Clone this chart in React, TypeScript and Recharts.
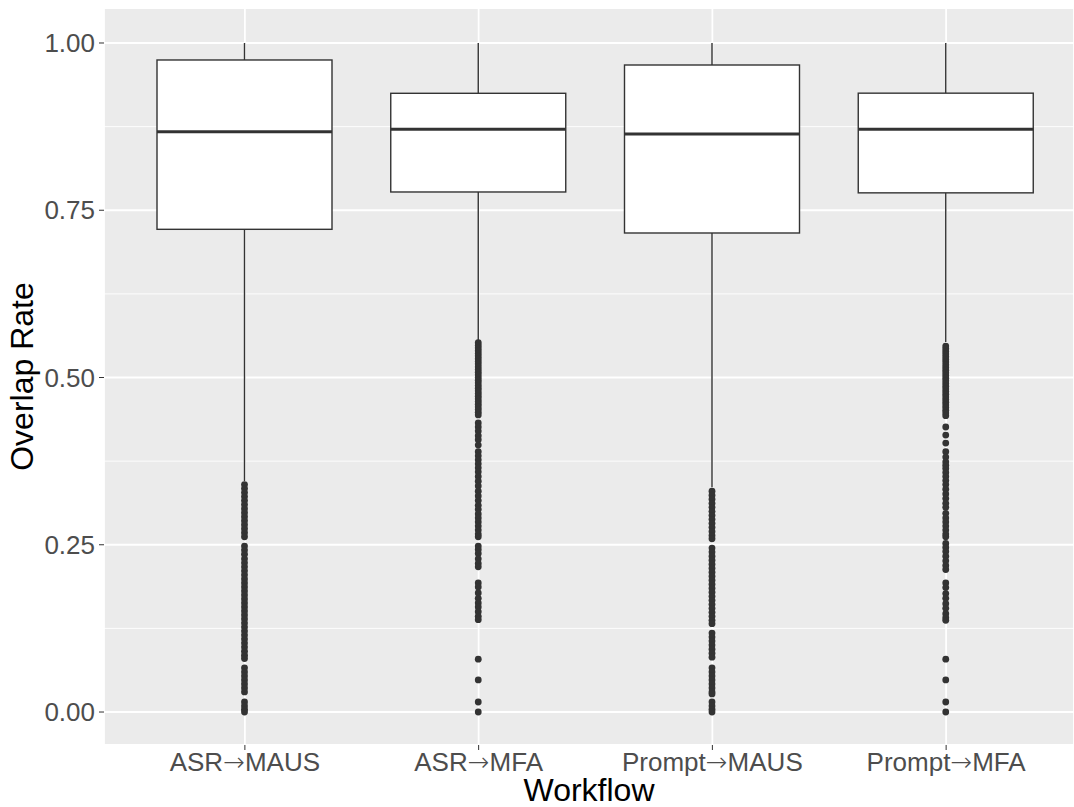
import { ComposedChart, Bar, XAxis, YAxis, CartesianGrid } from 'recharts';

const workflows = ['ASR→MAUS', 'ASR→MFA', 'Prompt→MAUS', 'Prompt→MFA'];
const whiskerLow = [0.345, 0.556, 0.336, 0.553];
const q1 = [0.7215, 0.7773, 0.716, 0.776];
const median = [0.8674, 0.871, 0.864, 0.871];
const q3 = [0.9746, 0.9248, 0.9671, 0.925];
const whiskerHigh = [1, 1, 1, 1];

const asrMausOutliers = [
  0.34, 0.334, 0.328, 0.322, 0.316, 0.31, 0.304, 0.298, 0.292, 0.286, 0.28, 0.274, 0.268, 0.262,
  0.248, 0.242, 0.236,
  0.229, 0.223, 0.217, 0.211, 0.205, 0.199, 0.193, 0.187, 0.181, 0.175, 0.169, 0.163, 0.157,
  0.151, 0.145, 0.139, 0.133, 0.127, 0.121, 0.115, 0.109, 0.103, 0.097, 0.091, 0.085, 0.08,
  0.066, 0.06, 0.054, 0.048, 0.042, 0.036, 0.03,
  0.015, 0.009, 0.004, 0,
];
const asrMfaOutliers = [
  0.552, 0.548, 0.544, 0.54, 0.536, 0.532, 0.528, 0.524, 0.52, 0.516, 0.512, 0.508, 0.504, 0.5,
  0.496, 0.492, 0.488, 0.484, 0.48, 0.476, 0.472, 0.468, 0.464, 0.46, 0.456, 0.452, 0.448, 0.444,
  0.432, 0.426, 0.42, 0.413, 0.407, 0.399, 0.389, 0.383, 0.377, 0.371, 0.365, 0.359, 0.352,
  0.345, 0.338, 0.33, 0.323, 0.316, 0.309, 0.303, 0.296, 0.29, 0.284, 0.278, 0.272, 0.266, 0.262,
  0.248, 0.243, 0.237, 0.229, 0.222, 0.217,
  0.193, 0.187, 0.178, 0.17, 0.163, 0.157, 0.15, 0.143, 0.138,
  0.079, 0.048, 0.015, 0,
];
const promptMausOutliers = [
  0.33, 0.324, 0.318, 0.312, 0.306, 0.3, 0.294, 0.288, 0.282, 0.276, 0.27, 0.264, 0.259,
  0.245, 0.239, 0.233, 0.227, 0.221, 0.215, 0.209, 0.203, 0.197, 0.191, 0.185, 0.179, 0.173,
  0.167, 0.161, 0.155, 0.149, 0.143, 0.137, 0.132,
  0.118, 0.112, 0.106, 0.1, 0.094, 0.088, 0.082,
  0.066, 0.06, 0.054, 0.048, 0.042, 0.036, 0.03, 0.027,
  0.015, 0.009, 0.004, 0,
];
const promptMfaOutliers = [
  0.547, 0.543, 0.539, 0.535, 0.531, 0.527, 0.523, 0.519, 0.515, 0.511, 0.507, 0.503, 0.499,
  0.495, 0.491, 0.487, 0.483, 0.479, 0.475, 0.471, 0.467, 0.463, 0.459, 0.455, 0.451, 0.447, 0.443,
  0.426, 0.414, 0.402, 0.389, 0.381,
  0.374, 0.369, 0.364, 0.358, 0.352, 0.346, 0.34,
  0.333, 0.326, 0.319, 0.312, 0.306,
  0.297, 0.29, 0.284, 0.278, 0.272, 0.266, 0.262,
  0.252, 0.246, 0.24, 0.233, 0.226, 0.219, 0.213,
  0.193, 0.186, 0.177, 0.17, 0.162, 0.155, 0.147, 0.141, 0.137,
  0.079, 0.048, 0.015, 0,
];
const outliers = [asrMausOutliers, asrMfaOutliers, promptMausOutliers, promptMfaOutliers];

const yDomain = [-0.0493, 1.0523];
const yTicks = [0, 0.25, 0.5, 0.75, 1];
const yMinorTicks = [0.125, 0.375, 0.625, 0.875];

const rows = workflows.map((name, i) => ({
  name,
  range: [whiskerLow[i], whiskerHigh[i]],
  low: whiskerLow[i],
  high: whiskerHigh[i],
  q1: q1[i],
  median: median[i],
  q3: q3[i],
  outliers: outliers[i],
}));

const INK = '#333333';

// range bar gives the pixel span of [low, high]; everything else is placed on that same linear map
function BoxShape(props: any) {
  const { x, y, width, height, payload } = props;
  const span = payload.high - payload.low;
  const py = (v: number) => y + ((payload.high - v) / span) * height;
  const cx = x + width / 2;
  return (
    <g>
      <line x1={cx} x2={cx} y1={py(payload.high)} y2={py(payload.q3)} stroke={INK} strokeWidth={1.4} />
      <line x1={cx} x2={cx} y1={py(payload.q1)} y2={py(payload.low)} stroke={INK} strokeWidth={1.4} />
      <rect
        x={x}
        y={py(payload.q3)}
        width={width}
        height={py(payload.q1) - py(payload.q3)}
        fill="#FFFFFF"
        stroke={INK}
        strokeWidth={1.4}
      />
      <line x1={x} x2={x + width} y1={py(payload.median)} y2={py(payload.median)} stroke={INK} strokeWidth={3} />
      {payload.outliers.map((v: number, k: number) => (
        <circle key={k} cx={cx} cy={py(v)} r={3.4} fill={INK} />
      ))}
    </g>
  );
}

// the arrow glyph in Liberation Sans is tiny, so draw it from DejaVu Sans
function WorkflowTick(props: any) {
  const { x, y, payload } = props;
  const [from, to] = String(payload.value).split('→');
  return (
    <text x={x} y={y} dy="0.71em" textAnchor="middle" fill="#4D4D4D" fontSize={26}>
      <tspan>{from}</tspan>
      <tspan fontFamily='"DejaVu Sans", sans-serif' fontWeight={200}>→</tspan>
      <tspan>{to}</tspan>
    </text>
  );
}

// minor grid rows: use the axis scale when it is handed over, else the same linear domain
const minorRows = ({ yAxis, offset }: any) =>
  yMinorTicks.map((t) =>
    typeof yAxis?.scale === 'function'
      ? yAxis.scale(t)
      : offset.top + ((yDomain[1] - t) / (yDomain[1] - yDomain[0])) * offset.height,
  );

export default function App() {
  return (
    <div
      style={{
        position: 'absolute',
        left: 0,
        top: 0,
        width: 1074,
        height: 807,
        background: '#FFFFFF',
        fontFamily: '"Liberation Sans", Arial, sans-serif',
      }}
    >
      <ComposedChart width={1074} height={807} data={rows} margin={{ top: 8, right: 0, bottom: 0, left: 0 }}>
        <CartesianGrid fill="#EBEBEB" fillOpacity={1} stroke="#FFFFFF" strokeWidth={1.8} />
        <CartesianGrid vertical={false} stroke="#FFFFFF" strokeWidth={0.9} horizontalCoordinatesGenerator={minorRows} />
        <XAxis
          dataKey="name"
          interval={0}
          height={62}
          padding={{ left: 24, right: 11 }}
          axisLine={false}
          tickSize={5}
          tickMargin={3}
          tickLine={{ stroke: INK }}
          tick={(p: any) => <WorkflowTick {...p} />}
          label={{ value: 'Workflow', position: 'insideBottom', offset: 6, style: { fontSize: 32, fill: '#000000' } }}
        />
        <YAxis
          type="number"
          width={104}
          domain={yDomain}
          allowDataOverflow
          ticks={yTicks}
          tickFormatter={(v) => Number(v).toFixed(2)}
          axisLine={false}
          tickSize={5}
          tickMargin={4}
          tickLine={{ stroke: INK }}
          tick={{ fill: '#4D4D4D', fontSize: 26 }}
          label={{
            value: 'Overlap Rate',
            angle: -90,
            position: 'insideLeft',
            offset: 22,
            style: { textAnchor: 'middle', fontSize: 32, fill: '#000000' },
          }}
        />
        <Bar dataKey="range" barSize={175} shape={(p: any) => <BoxShape {...p} />} isAnimationActive={false} />
      </ComposedChart>
    </div>
  );
}
